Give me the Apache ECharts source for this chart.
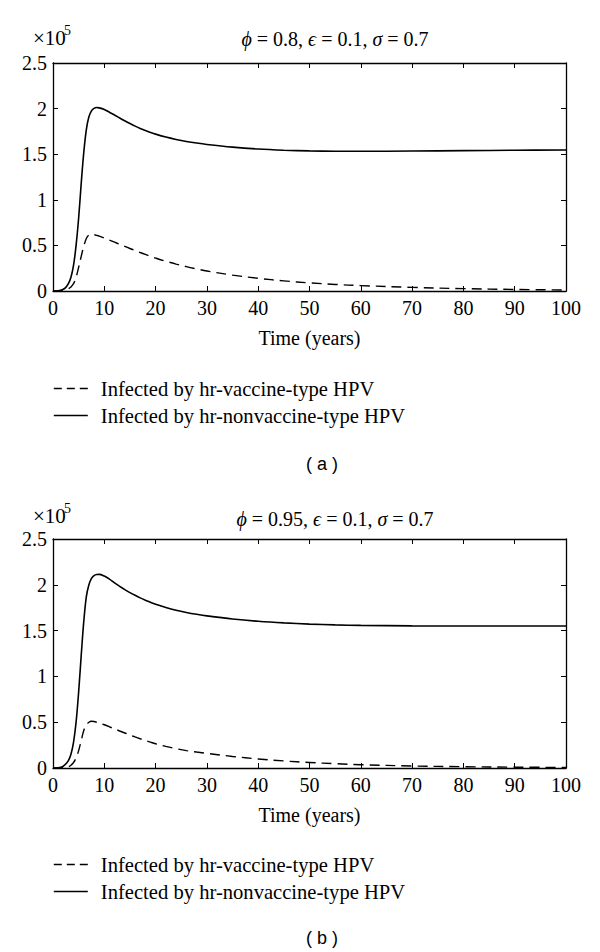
<!DOCTYPE html>
<html><head><meta charset="utf-8">
<script src="https://cdn.jsdelivr.net/npm/echarts@6/dist/echarts.min.js"></script>
<style>html,body{margin:0;padding:0;background:#fff}#c{width:600px;height:952px}</style>
</head><body><div id="c"></div>
<script>
// Time in years
const timeYears = [0,1,2,2.5,3,3.5,4,4.5,5,5.5,6,6.5,7,7.5,8,8.5,9,10,11,12,13,14,15,16,17,18,19,20,22,24,26,28,30,35,40,45,50,55,60,70,80,90,100];
// Panel (a): phi = 0.8  (values in units of 1e5)
const vaccineA = [0,0.001,0.005,0.012,0.025,0.045,0.08,0.15,0.26,0.38,0.49,0.575,0.615,0.622,0.617,0.61,0.602,0.58,0.558,0.535,0.512,0.489,0.466,0.444,0.422,0.401,0.38,0.361,0.326,0.295,0.267,0.242,0.219,0.174,0.139,0.111,0.089,0.072,0.059,0.04,0.026,0.017,0.011];
const nonvaccineA = [0,0.003,0.02,0.04,0.08,0.15,0.28,0.5,0.8,1.18,1.52,1.77,1.91,1.975,2.003,2.012,2.008,1.99,1.96,1.93,1.897,1.866,1.836,1.808,1.783,1.76,1.739,1.72,1.688,1.662,1.64,1.622,1.607,1.578,1.557,1.544,1.536,1.533,1.532,1.535,1.539,1.543,1.546];
// Panel (b): phi = 0.95
const vaccineB = [0,0.001,0.003,0.006,0.012,0.03,0.06,0.11,0.19,0.3,0.41,0.47,0.5,0.51,0.507,0.5,0.492,0.472,0.45,0.427,0.404,0.382,0.36,0.339,0.319,0.3,0.282,0.265,0.236,0.211,0.19,0.174,0.16,0.126,0.099,0.077,0.06,0.047,0.036,0.022,0.014,0.009,0.006];
const nonvaccineB = [0,0.003,0.02,0.045,0.08,0.15,0.28,0.5,0.83,1.23,1.6,1.87,2.0,2.07,2.1,2.113,2.114,2.095,2.062,2.02,1.983,1.948,1.915,1.885,1.857,1.832,1.809,1.788,1.752,1.722,1.698,1.678,1.661,1.627,1.602,1.584,1.571,1.562,1.557,1.552,1.55,1.55,1.551];

const seriesNames = ['Infected by hr-vaccine-type HPV', 'Infected by hr-nonvaccine-type HPV'];
const panelTitles = [['0.8','0.1','0.7'], ['0.95','0.1','0.7']];
const panelLabels = ['( a )', '( b )'];
const xAxisName = 'Time (years)';

const SERIF = '"Liberation Serif","Times New Roman",serif';
const SANS = '"Liberation Sans","DejaVu Sans",sans-serif';

const pair = (vals) => timeYears.map((t, i) => [t, vals[i]]);

const grids = [
  {left: 53, top: 63, width: 513, height: 228},
  {left: 53, top: 539, width: 513, height: 229}
];

const xAxes = [], yAxes = [];
grids.forEach((g, gi) => {
  const base = {type: 'value', gridIndex: gi, min: 0, max: 100, interval: 10,
    axisLine: {show: true, onZero: false, lineStyle: {color: '#000', width: 1.3}},
    axisTick: {show: true, inside: true, length: 5, lineStyle: {color: '#000', width: 1}},
    splitLine: {show: false}};
  xAxes.push(Object.assign({}, base, {position: 'bottom',
    axisLabel: {color: '#000', fontSize: 20, fontFamily: SERIF, margin: 7},
    name: xAxisName, nameLocation: 'middle', nameGap: 37,
    nameTextStyle: {color: '#000', fontSize: 20, fontFamily: SERIF}}));
  xAxes.push(Object.assign({}, base, {position: 'top', axisLabel: {show: false}}));
  const ybase = {type: 'value', gridIndex: gi, min: 0, max: 2.5, interval: 0.5,
    axisLine: {show: true, onZero: false, lineStyle: {color: '#000', width: 1.3}},
    axisTick: {show: true, inside: true, length: 5, lineStyle: {color: '#000', width: 1}},
    splitLine: {show: false}};
  yAxes.push(Object.assign({}, ybase, {position: 'left',
    axisLabel: {color: '#000', fontSize: 20, fontFamily: SERIF, margin: 6}}));
  yAxes.push(Object.assign({}, ybase, {position: 'right', axisLabel: {show: false}}));
});

const mk = (name, data, gi, dashed) => ({
  type: 'line', name, data: pair(data), xAxisIndex: gi * 2, yAxisIndex: gi * 2,
  symbol: 'none', smooth: 0.35, silent: true,
  lineStyle: {color: '#000', width: dashed ? 1.4 : 1.6, type: dashed ? [10, 6] : 'solid'},
  itemStyle: {color: '#000'}
});

const series = [
  mk(seriesNames[0], vaccineA, 0, true),
  mk(seriesNames[1], nonvaccineA, 0, false),
  mk(seriesNames[0], vaccineB, 1, true),
  mk(seriesNames[1], nonvaccineB, 1, false)
];

const legendTops = [378, 854];
const legends = legendTops.map(t => ({
  orient: 'vertical', left: 53, top: t, padding: 0, itemWidth: 34, itemHeight: 20, itemGap: 6,
  selectedMode: false,
  itemStyle: {opacity: 0},
  data: [
    {name: seriesNames[0], lineStyle: {type: [8, 5], width: 1.4}},
    {name: seriesNames[1], lineStyle: {width: 1.6}}
  ],
  textStyle: {color: '#000', fontSize: 20.6, fontFamily: SERIF, padding: [0, 0, 0, 8]}
}));

const graphics = [];
const titleY = [39, 519];
const expY = [38, 516];
const labelY = [464, 938];
panelTitles.forEach((v, i) => {
  graphics.push({type: 'text', x: 335, y: titleY[i], style: {
    text: '{g|ϕ} = ' + v[0] + ', {g|ϵ} = ' + v[1] + ', {g|σ} = ' + v[2],
    align: 'center', verticalAlign: 'middle', fill: '#000', font: '20px ' + SERIF,
    rich: {g: {fontStyle: 'italic', fontSize: 20, fontFamily: SERIF, fill: '#000'}}
  }});
  graphics.push({type: 'text', x: 33, y: expY[i], style: {
    text: '×10', align: 'left', verticalAlign: 'middle', fill: '#000', font: '21px ' + SERIF}});
  graphics.push({type: 'text', x: 64, y: expY[i] - 8, style: {
    text: '5', align: 'left', verticalAlign: 'middle', fill: '#000', font: '14px ' + SERIF}});
  graphics.push({type: 'text', x: 322, y: labelY[i], style: {
    text: panelLabels[i], align: 'center', verticalAlign: 'middle', fill: '#000', font: '18px ' + SANS}});
});

const chart = echarts.init(document.getElementById('c'), null, {renderer: 'svg'});
chart.setOption({
  animation: false,
  backgroundColor: '#fff',
  grid: grids,
  xAxis: xAxes,
  yAxis: yAxes,
  legend: legends,
  series,
  graphic: graphics
});
</script>
</body></html>
